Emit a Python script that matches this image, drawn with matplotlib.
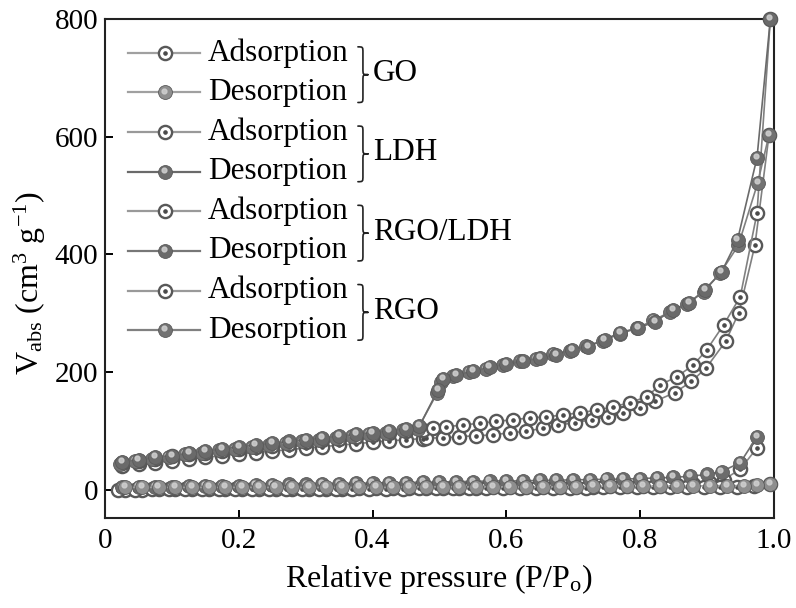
import matplotlib
matplotlib.use('Agg')
import matplotlib.pyplot as plt
from matplotlib.path import Path
from matplotlib.patches import PathPatch
from matplotlib.transforms import offset_copy

plt.rcParams['font.family'] = ['Liberation Serif', 'DejaVu Serif']
plt.rcParams['mathtext.fontset'] = 'custom'
plt.rcParams['mathtext.rm'] = 'Liberation Serif'
plt.rcParams['mathtext.it'] = 'Liberation Serif:italic'

# ---- data ----
# GO
go_ads_x = [0.02, 0.045, 0.07, 0.095, 0.12, 0.145, 0.17, 0.195, 0.22, 0.245, 0.27, 0.295, 0.32, 0.345,
            0.37, 0.395, 0.42, 0.445, 0.47, 0.495, 0.52, 0.545, 0.57, 0.595, 0.62, 0.645, 0.67, 0.695,
            0.72, 0.745, 0.77, 0.795, 0.82, 0.845, 0.87, 0.895, 0.92, 0.945, 0.97, 0.995]
go_ads_y = [0, 0, 1, 1, 1, 1, 1, 1, 2, 2, 2, 2, 2, 2, 2, 2, 2, 2, 3, 3, 3, 3, 3, 3, 3, 3, 3, 3,
            3, 4, 4, 4, 4, 4, 4, 4, 5, 5, 6, 10]
go_des_x = [0.995, 0.975, 0.955, 0.93, 0.905, 0.88, 0.855, 0.83, 0.805, 0.78, 0.755, 0.73, 0.705,
            0.68, 0.655, 0.63, 0.605, 0.58, 0.555, 0.53, 0.505, 0.48, 0.455, 0.43, 0.405, 0.38, 0.355,
            0.33, 0.305, 0.28, 0.255, 0.23, 0.205, 0.18, 0.155, 0.13, 0.105, 0.08, 0.055, 0.03]
go_des_y = [10, 8, 7, 7, 7, 6, 6, 6, 6, 6, 6, 6, 5, 5, 5, 5, 5, 5, 5, 5, 5, 5, 5, 4, 4, 4, 4,
            4, 4, 4, 4, 4, 4, 4, 4, 4, 4, 4, 4, 4]

# LDH
ldh_ads_x = [0.03, 0.055, 0.08, 0.105, 0.13, 0.155, 0.18, 0.205, 0.23, 0.255, 0.28, 0.305, 0.33,
             0.355, 0.38, 0.405, 0.43, 0.455, 0.48, 0.505, 0.53, 0.555, 0.58, 0.605, 0.63, 0.655,
             0.68, 0.705, 0.73, 0.755, 0.78, 0.805, 0.83, 0.855, 0.88, 0.905, 0.925, 0.95, 0.975]
ldh_ads_y = [0, 0, 1, 1, 1, 1, 1, 2, 2, 2, 2, 2, 2, 2, 3, 3, 3, 3, 3, 3, 3, 3, 4, 4, 4, 4,
             5, 5, 5, 6, 6, 7, 7, 8, 9, 12, 17, 35, 71]
ldh_des_x = [0.975, 0.95, 0.922, 0.9, 0.875, 0.85, 0.825, 0.8, 0.775, 0.75, 0.725, 0.7, 0.675,
             0.65, 0.625, 0.6, 0.575, 0.55, 0.525, 0.5, 0.475, 0.45, 0.425, 0.4, 0.375, 0.35,
             0.325, 0.3, 0.275, 0.25, 0.225, 0.2, 0.175, 0.15, 0.125, 0.1, 0.075, 0.05, 0.025]
ldh_des_y = [90, 46, 31, 26, 23, 21, 20, 19, 18, 18, 17, 17, 16, 16, 15, 15, 15, 14, 14, 13, 13,
             12, 12, 11, 11, 10, 10, 9, 9, 8, 8, 7, 7, 6, 6, 5, 5, 4, 4]

# RGO/LDH
rl_ads_x = [0.025, 0.05, 0.075, 0.10, 0.125, 0.15, 0.175, 0.20, 0.225, 0.25, 0.275, 0.30, 0.325,
            0.35, 0.375, 0.40, 0.425, 0.45, 0.475, 0.49, 0.51, 0.535, 0.56, 0.585, 0.61, 0.635,
            0.66, 0.685, 0.71, 0.735, 0.76, 0.785, 0.81, 0.83, 0.855, 0.88, 0.90, 0.925, 0.95,
            0.975, 0.995]
rl_ads_y = [45, 49, 53, 57, 60, 63, 66, 69, 72, 75, 78, 81, 84, 87, 90, 93, 96, 99, 102, 105, 107,
            110, 113, 116, 119, 122, 124, 127, 131, 135, 141, 148, 158, 178, 192, 212, 238, 280,
            328, 470, 800]
rl_des_x = [0.995, 0.975, 0.946, 0.922, 0.897, 0.874, 0.849, 0.822, 0.797, 0.77, 0.747, 0.722,
            0.698, 0.675, 0.65, 0.625, 0.60, 0.575, 0.55, 0.525, 0.505, 0.498, 0.47, 0.45, 0.425,
            0.40, 0.375, 0.35, 0.325, 0.30, 0.275, 0.25, 0.225, 0.20, 0.175, 0.15, 0.125, 0.10,
            0.075, 0.05, 0.025]
rl_des_y = [800, 564, 425, 370, 340, 318, 306, 285, 275, 267, 255, 243, 238, 229, 224, 218, 214,
            208, 201, 195, 188, 170, 108, 104, 100, 97, 94, 91, 88, 85, 82, 79, 76, 73, 69, 66, 62,
            58, 55, 51, 47]

# RGO
rgo_ads_x = [0.025, 0.05, 0.075, 0.10, 0.125, 0.15, 0.175, 0.20, 0.225, 0.25, 0.275, 0.30, 0.325,
             0.35, 0.375, 0.40, 0.425, 0.45, 0.475, 0.48, 0.505, 0.53, 0.555, 0.58, 0.605, 0.63,
             0.655, 0.678, 0.703, 0.728, 0.752, 0.775, 0.80, 0.822, 0.852, 0.877, 0.899, 0.928,
             0.948, 0.972, 0.993]
rgo_ads_y = [40, 43, 46, 49, 52, 55, 58, 61, 63, 66, 68, 71, 73, 76, 78, 81, 83, 85, 87, 88, 88,
             90, 92, 93, 97, 99, 105, 110, 114, 119, 124, 131, 139, 150, 165, 184, 207, 252, 301,
             416, 603]
rgo_des_x = [0.993, 0.976, 0.947, 0.92, 0.895, 0.87, 0.845, 0.82, 0.795, 0.77, 0.745, 0.72, 0.695,
             0.67, 0.645, 0.62, 0.595, 0.57, 0.545, 0.52, 0.503, 0.497, 0.468, 0.445, 0.42, 0.395,
             0.37, 0.345, 0.32, 0.295, 0.27, 0.245, 0.22, 0.195, 0.17, 0.145, 0.12, 0.095, 0.07,
             0.045, 0.022]
rgo_des_y = [603, 521, 415, 368, 336, 315, 302, 288, 274, 265, 253, 245, 236, 230, 222, 219, 212,
             206, 200, 193, 183, 165, 104, 101, 97, 94, 91, 88, 85, 82, 79, 76, 73, 70, 67, 63,
             60, 56, 53, 49, 44]

groups = ['GO', 'LDH', 'RGO/LDH', 'RGO']

fig = plt.figure(figsize=(7.96, 6.08), dpi=100)
ax = fig.add_axes([0.132, 0.148, 0.840, 0.821])

hl = offset_copy(ax.transData, fig=fig, x=-0.8, y=1.4, units='points')


def ads(x, y, lc, z, ax=ax, tr=None):
    kw = {} if tr is None else {'transform': tr}
    ax.plot(x, y, '-', color=lc, lw=1.2, marker='o', ms=9.5, mfc='white', mec='#585858',
            mew=1.7, zorder=z, clip_on=False, **kw)
    ax.plot(x, y, 'o', ls='none', ms=2.3, color='#4a4a4a', zorder=z + 0.1, clip_on=False, **kw)


def des(x, y, lc, face, z, ax=ax, tr=None, hltr=None):
    kw = {} if tr is None else {'transform': tr}
    ax.plot(x, y, '-', color=lc, lw=1.2, marker='o', ms=10, mfc=face, mec='#5a5a5a',
            mew=0.6, zorder=z, clip_on=False, **kw)
    ax.plot(x, y, 'o', ls='none', ms=3.5, color='#d0d0d0', alpha=0.85, zorder=z + 0.1,
            clip_on=False, transform=hltr if hltr is not None else hl)


ads(ldh_ads_x, ldh_ads_y, '#8a8a8a', 3)
ads(go_ads_x, go_ads_y, '#9a9a9a', 3.2)
des(ldh_des_x, ldh_des_y, '#707070', '#6c6c6c', 4)
des(go_des_x, go_des_y, '#9a9a9a', '#8e8e8e', 4.5)
ads(rgo_ads_x, rgo_ads_y, '#808080', 5)
ads(rl_ads_x, rl_ads_y, '#808080', 5.2)
des(rgo_des_x, rgo_des_y, '#808080', '#727272', 6)
des(rl_des_x, rl_des_y, '#6a6a6a', '#6a6a6a', 6.5)

ax.set_xlim(0, 1.0)
ax.set_ylim(-48, 800)
ax.set_xticks([0, 0.2, 0.4, 0.6, 0.8, 1.0])
ax.set_xticklabels(['0', '0.2', '0.4', '0.6', '0.8', '1.0'])
ax.set_yticks([0, 200, 400, 600, 800])
ax.tick_params(direction='in', length=6, width=1.4, labelsize=21, pad=7,
               top=False, right=False)
ax.tick_params(axis='y', pad=5)
for s in ax.spines.values():
    s.set_linewidth(1.5)
    s.set_color('#222222')
ax.set_xlabel('Relative pressure (P/P$_{\\rm o}$)', fontsize=23, labelpad=6)
ax.set_ylabel('V$_{\\rm abs}$ (cm$^3$ g$^{-1}$)', fontsize=23)
ax.yaxis.set_label_coords(-0.086, 0.47)

# ---- legend, drawn by hand in axes pixels ----
W, H = 669.0, 499.0
row0, step = 53 - 19, 39.6
line_cols = ['#a0a0a0', '#a0a0a0', '#999999', '#6a6a6a', '#999999', '#777777', '#999999', '#808080']
des_faces = ['#8e8e8e', '#6c6c6c', '#6a6a6a', '#727272']
lt = ax.transAxes
hlt = offset_copy(lt, fig=fig, x=-0.8, y=1.4, units='points')
for i in range(8):
    yy = 1 - (row0 + i * step) / H
    ax.plot([23 / W, 95 / W], [yy, yy], '-', color=line_cols[i], lw=1.6, transform=lt,
            zorder=8, clip_on=False)
    if i % 2 == 0:
        ads([60 / W], [yy], line_cols[i], 9, tr=lt)
        label = 'Adsorption'
    else:
        des([60 / W], [yy], line_cols[i], des_faces[i // 2], 9, tr=lt, hltr=hlt)
        label = 'Desorption'
    ax.text(103 / W, yy, label, transform=lt, fontsize=22.5, va='center', ha='left', zorder=9)


def brace(x0, yt, yb, w):
    # right pointing curly brace, pixel coords inside the axes (y down)
    ym = (yt + yb) / 2
    xm = x0 + w * 0.5
    xt = x0 + w
    r = 6
    pts = [(x0, yt), (xm, yt), (xm, yt), (xm, yt + r),
           (xm, ym - r),
           (xm, ym), (xm, ym), (xt, ym),
           (xm, ym), (xm, ym), (xm, ym + r),
           (xm, yb - r),
           (xm, yb), (xm, yb), (x0, yb)]
    codes = [Path.MOVETO, Path.CURVE4, Path.CURVE4, Path.CURVE4,
             Path.LINETO,
             Path.CURVE4, Path.CURVE4, Path.CURVE4,
             Path.CURVE4, Path.CURVE4, Path.CURVE4,
             Path.LINETO,
             Path.CURVE4, Path.CURVE4, Path.CURVE4]
    verts = [(px / W, 1 - py / H) for px, py in pts]
    ax.add_patch(PathPatch(Path(verts, codes), fill=False, lw=1.2, color='#222222',
                           transform=lt, clip_on=False, zorder=9, capstyle='round',
                           joinstyle='round'))


for g, name in enumerate(groups):
    top = row0 + 2 * g * step - 6
    bot = row0 + (2 * g + 1) * step + 10
    brace(253, top, bot, 10)
    ax.text(268 / W, 1 - ((top + bot) / 2 - 1) / H, name, transform=lt, fontsize=22.5,
            va='center', ha='left', zorder=9)

fig.savefig('out.png', dpi=100)
